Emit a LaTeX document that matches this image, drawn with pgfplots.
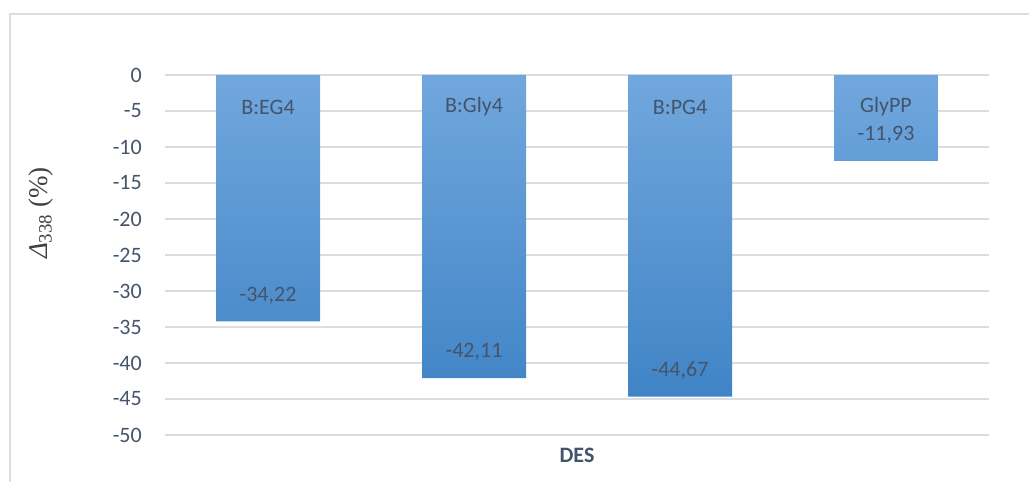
\documentclass[border=0pt]{standalone}
\usepackage{pgfplots}
\pgfplotsset{compat=1.18}
\usepackage{fontspec}
\setmainfont{Carlito}
\newfontfamily\serif{Liberation Serif}
\definecolor{gridc}{RGB}{217,221,228}
\definecolor{txt}{RGB}{68,84,106}
\definecolor{bartop}{RGB}{113,167,221}
\definecolor{barmid}{RGB}{88,153,215}
\definecolor{barbot}{RGB}{64,132,198}
\begin{document}
\begin{tikzpicture}[x=1bp,y=1bp]
\path[use as bounding box] (0,0) rectangle (1029,482);
\draw[gridc, line width=1.5bp] (10,0) -- (10,468) -- (1029,468);
\begin{axis}[
  at={(165bp,47bp)}, anchor=south west,
  scale only axis, width=824bp, height=360bp,
  xmin=-0.5, xmax=3.5, ymin=-50, ymax=0,
  ytick={-50,-45,...,0},
  xtick=\empty,
  axis line style={draw=none},
  major tick length=0pt,
  ymajorgrids, grid style={gridc, line width=1.5bp},
  /pgf/number format/assume math mode=true,
  font=\fontsize{22bp}{26bp}\selectfont,
  yticklabel style={text=txt, anchor=east, inner sep=0pt, xshift=-23bp},
  ylabel={{\serif{\itshape Δ}\textsubscript{338}\ (\%)}},
  every axis y label/.style={at={(axis description cs:-0.1505,0.6167)}, anchor=center, rotate=90, text=black!75, font=\fontsize{27bp}{31bp}\selectfont},
  xlabel={\textbf{DES}},
  every axis x label/.style={at={(axis description cs:0.5,-0.0556)}, anchor=center, text=txt},
  clip=false,
]
\addplot[ybar, bar width=104bp, bar shift=0pt, draw=none,
  top color=bartop, middle color=barmid, bottom color=barbot,
  nodes near coords, point meta=y,
  nodes near coords style={anchor=center, yshift=26bp, text=txt,
    /pgf/number format/.cd, fixed, precision=2, fixed zerofill, use comma, assume math mode=true},
] coordinates {(0,-34.22) (1,-42.11) (2,-44.67) (3,-11.93)};
\addplot[draw=none, mark=none,
  nodes near coords, point meta=explicit symbolic,
  nodes near coords style={anchor=center, yshift=-32bp, text=txt},
] coordinates {(0,0) [B:EG4] (1,0) [B:Gly4] (2,0) [B:PG4] (3,0) [GlyPP]};
\end{axis}
\end{tikzpicture}
\end{document}
